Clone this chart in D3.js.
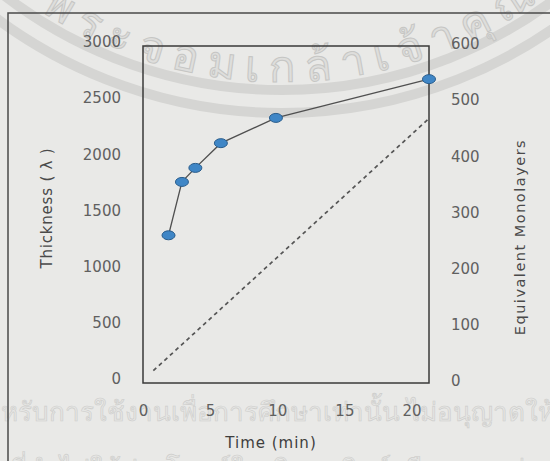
<!DOCTYPE html>
<html>
<head>
<meta charset="utf-8">
<script src="https://cdn.jsdelivr.net/npm/d3@7"></script>
<style>
  body { margin: 0; background: #e9e9e7; }
  svg { display: block; }
  .tick text { font-family: "DejaVu Sans", Verdana, sans-serif; font-size: 15px; fill: #606060; }
</style>
</head>
<body>
<div id="chart"></div>
<script>
// measured film thickness vs deposition time
var times = [1.9, 2.9, 3.9, 5.8, 9.9, 21.3];
var thickness = [1315, 1790, 1915, 2135, 2360, 2705];
// reference (dashed) line, in equivalent monolayers
var refTimes = [0.77, 21.3];
var refMonolayers = [22, 471];

var xTicks = [0, 5, 10, 15, 20];
var leftTicks = [0, 500, 1000, 1500, 2000, 2500, 3000];
var rightTicks = [0, 100, 200, 300, 400, 500, 600];

var width = 550,
  height = 461;

var plotLeft = 143, plotRight = 429, plotTop = 46, plotBottom = 383;

var x = d3.scaleLinear().domain([0, 21.3]).range([plotLeft, plotRight]);
var yL = d3.scaleLinear().domain([0, 3000]).range([plotBottom, plotTop]);
var yR = d3.scaleLinear().domain([0, 600]).range([plotBottom, plotTop]);

var svg = d3.select("#chart")
  .append("svg")
  .attr("width", width)
  .attr("height", height);

// scanned watermark (faint)
var wm = svg.append("g").attr("class", "watermark");
var cx = 282, cy = -365;
[455, 478].forEach(function(r) {
  wm.append("circle")
    .attr("cx", cx).attr("cy", cy).attr("r", r)
    .attr("fill", "none")
    .attr("stroke", "#d5d5d3")
    .attr("stroke-width", 10);
});
var tr = 447;
wm.append("path")
  .attr("id", "wmArc")
  .attr("fill", "none")
  .attr("d", "M" + (cx - 420) + "," + (cy + Math.sqrt(tr * tr - 420 * 420)) +
    " A" + tr + "," + tr + " 0 0 0 " + (cx + 420) + "," + (cy + Math.sqrt(tr * tr - 420 * 420)));
wm.append("text")
  .style("font-family", "sans-serif")
  .style("font-size", "44px")
  .style("letter-spacing", "10px")
  .attr("fill", "#dededc")
  .attr("stroke", "#c6c6c4")
  .attr("stroke-width", 1)
  .append("textPath")
  .attr("href", "#wmArc")
  .attr("startOffset", 290)
  .text("พระจอมเกล้าเจ้าคุณ");
wm.append("text")
  .attr("x", -30)
  .attr("y", 421)
  .style("font-family", "serif")
  .style("font-size", "26px")
  .attr("fill", "#e6e6e4")
  .attr("stroke", "#cdcdcb")
  .attr("stroke-width", 0.6)
  .text("สำหรับการใช้งานเพื่อการศึกษาเท่านั้น ไม่อนุญาตให้");
wm.append("text")
  .attr("x", 10)
  .attr("y", 478)
  .style("font-family", "serif")
  .style("font-size", "26px")
  .attr("fill", "#e6e6e4")
  .attr("stroke", "#cdcdcb")
  .attr("stroke-width", 0.6)
  .text("ที่นำไปใช้ประโยชน์ในเชิงพาณิชย์หรือเผยแพร่");

// outer frame of the scanned figure
svg.append("path")
  .attr("d", "M8," + height + " V13 H" + width)
  .attr("fill", "none")
  .attr("stroke", "#4a4a4a")
  .attr("stroke-width", 1.5);

// axes (labels only)
svg.append("g")
  .attr("transform", "translate(" + plotLeft + ",-4)")
  .call(d3.axisLeft(yL).tickValues(leftTicks).tickFormat(d3.format("d")).tickSize(0).tickPadding(22))
  .call(function(g) { g.select(".domain").remove(); });

svg.append("g")
  .attr("transform", "translate(" + plotRight + ",-2)")
  .call(d3.axisRight(yR).tickValues(rightTicks).tickFormat(d3.format("d")).tickSize(0).tickPadding(22))
  .call(function(g) { g.select(".domain").remove(); });

svg.append("g")
  .attr("transform", "translate(0," + plotBottom + ")")
  .call(d3.axisBottom(x).tickValues(xTicks).tickFormat(d3.format("d")).tickSize(0).tickPadding(22))
  .call(function(g) { g.select(".domain").remove(); });

// plot box
svg.append("rect")
  .attr("x", plotLeft)
  .attr("y", plotTop)
  .attr("width", plotRight - plotLeft)
  .attr("height", plotBottom - plotTop)
  .attr("fill", "none")
  .attr("stroke", "#3a3a3a")
  .attr("stroke-width", 1.5);

// axis titles
svg.append("text")
  .attr("transform", "translate(52,208) rotate(-90)")
  .attr("text-anchor", "middle")
  .style("font-family", "DejaVu Sans, Verdana, sans-serif")
  .style("font-size", "15px")
  .style("letter-spacing", "0.8px")
  .attr("fill", "#4a4a4a")
  .text("Thickness ( λ )");

svg.append("text")
  .attr("transform", "translate(525,237) rotate(-90)")
  .attr("text-anchor", "middle")
  .style("font-family", "DejaVu Sans, Verdana, sans-serif")
  .style("font-size", "14.5px")
  .style("letter-spacing", "1.5px")
  .attr("fill", "#4a4a4a")
  .text("Equivalent  Monolayers");

svg.append("text")
  .attr("x", 271)
  .attr("y", 448)
  .attr("text-anchor", "middle")
  .style("font-family", "DejaVu Sans, Verdana, sans-serif")
  .style("font-size", "15px")
  .style("letter-spacing", "1px")
  .attr("fill", "#3e3e3e")
  .text("Time (min)");

// dashed reference line (right axis)
var refLine = d3.line()
  .x(function(d, i) { return x(refTimes[i]); })
  .y(function(d) { return yR(d); });

svg.append("path")
  .datum(refMonolayers)
  .attr("d", refLine)
  .attr("fill", "none")
  .attr("stroke", "#555")
  .attr("stroke-width", 1.7)
  .attr("stroke-dasharray", "4,3.5");

// measured series (left axis)
var line = d3.line()
  .x(function(d, i) { return x(times[i]); })
  .y(function(d) { return yL(d); });

svg.append("path")
  .datum(thickness)
  .attr("d", line)
  .attr("fill", "none")
  .attr("stroke", "#505050")
  .attr("stroke-width", 1.3);

svg.selectAll(".pt")
  .data(thickness)
  .enter().append("ellipse")
  .attr("class", "pt")
  .attr("cx", function(d, i) { return x(times[i]); })
  .attr("cy", function(d) { return yL(d); })
  .attr("rx", 6.5)
  .attr("ry", 4.5)
  .attr("fill", "#3f86c6")
  .attr("stroke", "#2a5d8c")
  .attr("stroke-width", 1);
</script>
</body>
</html>
